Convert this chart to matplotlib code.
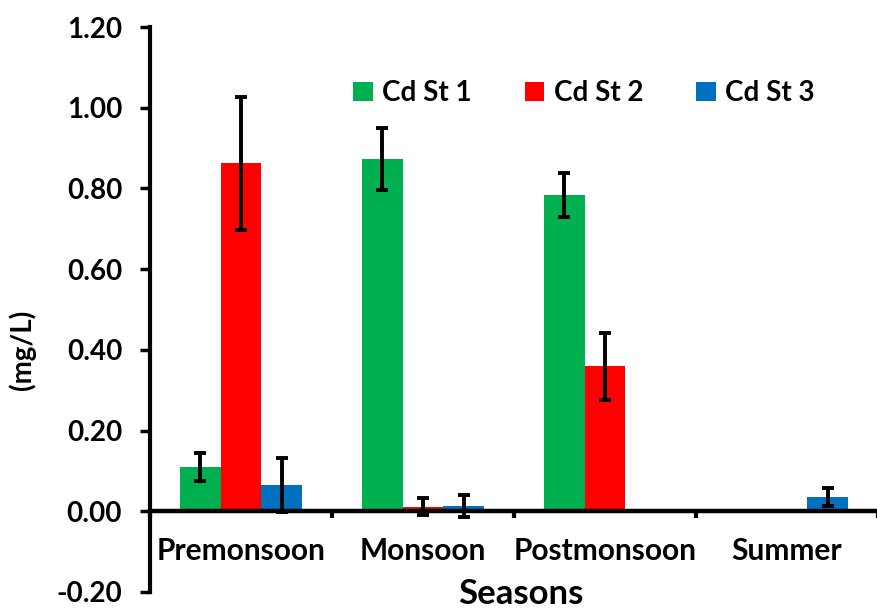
import numpy as np
import matplotlib
matplotlib.use("Agg")
import matplotlib.pyplot as plt
from matplotlib.patches import Patch
from matplotlib.transforms import blended_transform_factory

seasons = ["Premonsoon", "Monsoon", "Postmonsoon", "Summer"]
series = ["Cd St 1", "Cd St 2", "Cd St 3"]
st1 = [0.110, 0.872, 0.783, 0.0]
st1_err = [0.035, 0.077, 0.054, 0.0]
st2 = [0.862, 0.011, 0.359, 0.0]
st2_err = [0.165, 0.021, 0.083, 0.0]
st3 = [0.066, 0.014, 0.0, 0.035]
st3_err = [0.067, 0.027, 0.0, 0.023]
colors = ["#00B050", "#FF0000", "#0070C0"]
yticks = [-0.2, 0.0, 0.2, 0.4, 0.6, 0.8, 1.0, 1.2]

plt.rcParams["font.family"] = ["Lato", "DejaVu Sans"]
plt.rcParams["font.weight"] = "bold"

fig = plt.figure(figsize=(8.78, 6.10), dpi=100)
ax = fig.add_axes([150 / 878, 1 - 592 / 610, 1 - 150 / 878, (592 - 27) / 610])

x = np.arange(len(seasons))
w = 0.224
for i, (vals, errs) in enumerate([(st1, st1_err), (st2, st2_err), (st3, st3_err)]):
    pos = x + (i - 1) * w
    ax.bar(pos, vals, width=w, color=colors[i], edgecolor="none", zorder=2)
    show = [k for k in range(len(vals)) if errs[k] > 0]
    ax.errorbar(pos[show], np.array(vals)[show], yerr=np.array(errs)[show], fmt="none",
                ecolor="black", elinewidth=2.8, capsize=4.5, capthick=2.8, zorder=3)

ax.set_xlim(-0.5, -0.5 + 728 / 183)
ax.set_ylim(-0.2, 1.2)

ax.spines["top"].set_visible(False)
ax.spines["right"].set_visible(False)
ax.spines["bottom"].set_position(("data", 0))
ax.spines["bottom"].set_linewidth(3.2)
ax.spines["left"].set_linewidth(3)
ax.spines["bottom"].set_zorder(4)

ax.set_yticks(yticks)
ax.set_yticklabels([f"{v:.2f}" for v in yticks], fontsize=20, fontweight="bold")
ax.tick_params(axis="y", direction="out", length=7, width=2.5, pad=13)

ax.set_xticks([-0.5, 0.5, 1.5, 2.5, 3.5])
ax.set_xticklabels([])
ax.tick_params(axis="x", direction="out", length=5, width=3)

trans = blended_transform_factory(ax.transData, ax.transData)
for xi, name in zip(x, seasons):
    ax.text(xi, -0.099, name, transform=trans, ha="center", va="center",
            fontsize=21.5, fontweight="bold")

fig.text(521 / 878, 1 - 594 / 610, "Seasons", ha="center", va="center",
         fontsize=25, fontweight="bold")
fig.text(22 / 878, 1 - 350 / 610, "(mg/L)", ha="center", va="center",
         rotation=90, fontsize=20, fontweight="bold")

handles = [Patch(facecolor=c, edgecolor="none") for c in colors]
fig.legend(handles, series, loc="center", bbox_to_anchor=(584 / 878, 1 - 93 / 610),
           ncol=3, frameon=False, prop={"weight": "bold", "size": 20},
           handlelength=0.7, handleheight=0.7, handletextpad=0.35, columnspacing=1.9)

fig.savefig("out.png", dpi=100)
